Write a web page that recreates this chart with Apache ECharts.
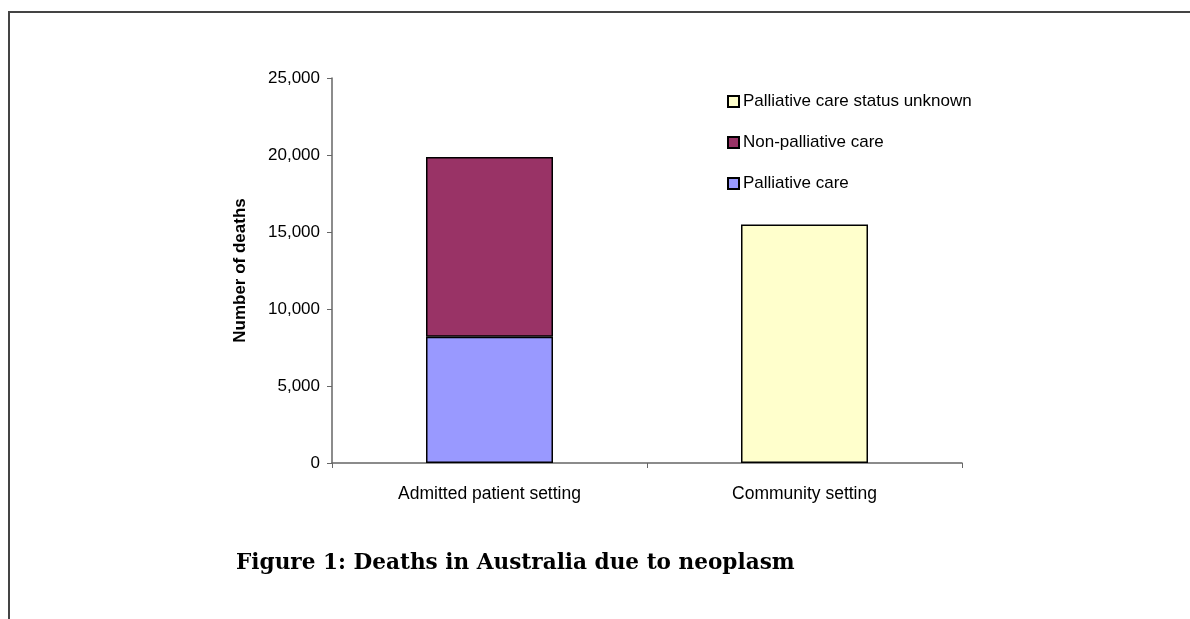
<!DOCTYPE html>
<html><head><meta charset="utf-8">
<script src="https://cdn.jsdelivr.net/npm/echarts@6/dist/echarts.min.js"></script>
<style>html,body{margin:0;padding:0;background:#fff}#c{width:1190px;height:619px}</style>
</head><body><div id="c"></div>
<script>
const categories = ['Admitted patient setting', 'Community setting'];
const palliative = [8200, '-'];
const nonPalliative = [11670, '-'];
const unknownStatus = ['-', 15490];
const yTicks = [0, 5000, 10000, 15000, 20000, 25000];

const chart = echarts.init(document.getElementById('c'));
const font = 'Liberation Sans, Arial, sans-serif';
const bar = (name, data, color) => ({
  name, type: 'bar', stack: 'total', data, barWidth: 127,
  itemStyle: { color, borderColor: '#000', borderWidth: 1.5 },
  emphasis: { disabled: true }
});
chart.setOption({
  animation: false,
  grid: { left: 332, right: 228, top: 78, bottom: 156 },
  legend: {
    orient: 'vertical', left: 727, top: 93, itemGap: 24, padding: 0,
    itemWidth: 11, itemHeight: 11, icon: 'rect',
    data: ['Palliative care status unknown', 'Non-palliative care', 'Palliative care'],
    textStyle: { fontFamily: font, fontSize: 17, color: '#000', padding: [0, 0, 0, -1] }
  },
  xAxis: {
    type: 'category', data: categories,
    axisLine: { lineStyle: { color: '#666', width: 1.5 } },
    axisTick: { show: true, length: 5, lineStyle: { color: '#666' } },
    axisLabel: { fontFamily: font, fontSize: 17.5, color: '#000', margin: 22 }
  },
  yAxis: {
    type: 'value', min: yTicks[0], max: yTicks[yTicks.length - 1], interval: 5000,
    name: 'Number of deaths', nameLocation: 'middle', nameGap: 83,
    nameTextStyle: { fontFamily: font, fontSize: 17, fontWeight: 'bold', color: '#000' },
    splitLine: { show: false },
    axisLine: { show: true, lineStyle: { color: '#666', width: 1.5 } },
    axisTick: { show: true, length: 5, lineStyle: { color: '#666' } },
    axisLabel: {
      fontFamily: font, fontSize: 17, color: '#000', margin: 12,
      formatter: v => v.toLocaleString('en-US')
    }
  },
  series: [
    bar('Palliative care', palliative, '#9999FF'),
    bar('Non-palliative care', nonPalliative, '#993366'),
    bar('Palliative care status unknown', unknownStatus, '#FFFFCC')
  ],
  graphic: [
    { type: 'rect', shape: { x: 9, y: 12, width: 1300, height: 800 },
      style: { fill: 'none', stroke: '#444', lineWidth: 2 }, silent: true },
    { type: 'text', left: 236, top: 552,
      style: { text: 'Figure 1: Deaths in Australia due to neoplasm',
        font: 'bold 21.6px "DejaVu Serif", serif', fill: '#000' } }
  ]
});
</script></body></html>
